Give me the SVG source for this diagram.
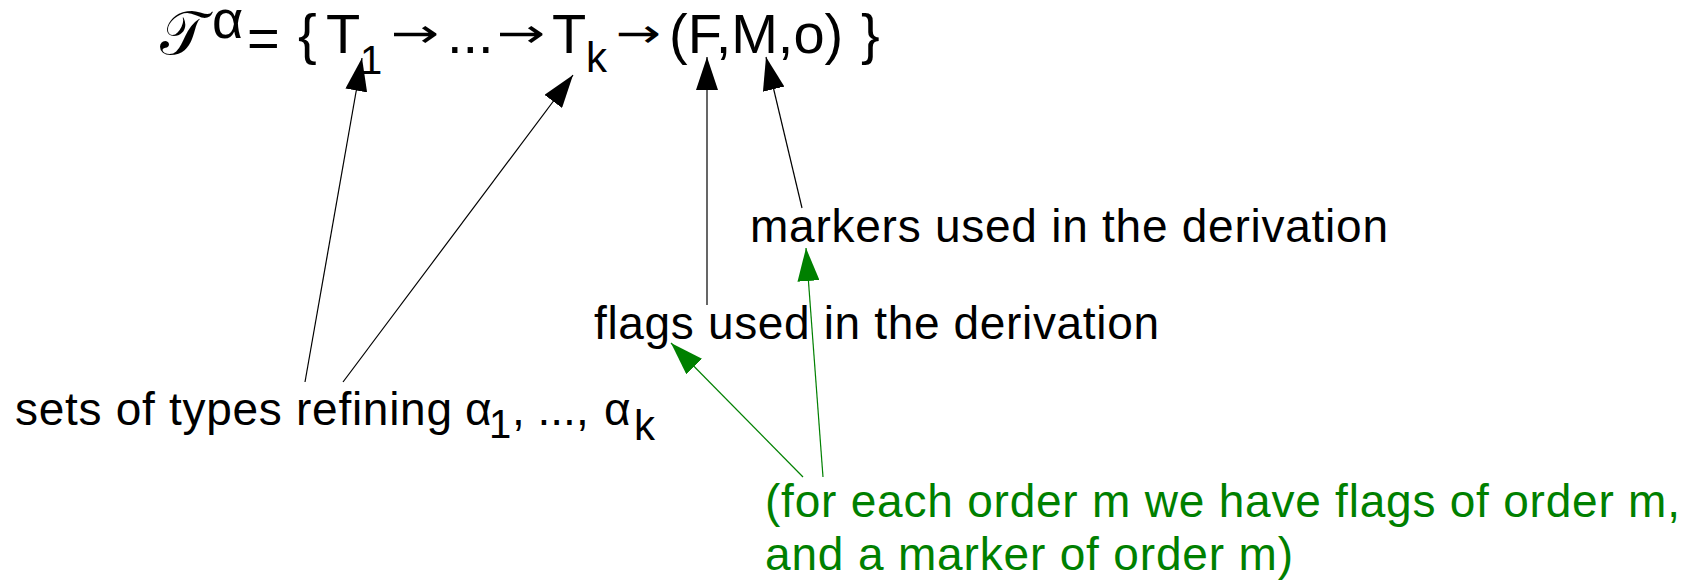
<svg xmlns="http://www.w3.org/2000/svg" width="1702" height="582" viewBox="0 0 1702 582">
<style>
  .t { font-family: "Liberation Sans", Arial, sans-serif; fill: #000; }
  .g { fill: #008000; }
  .f { font-size: 56px; }
  .lab { font-size: 46px; }
  .arr { font-family: "DejaVu Sans", sans-serif; font-size: 40px; fill: #000; }
  .ln { stroke: #000; stroke-width: 1.2; fill: none; }
  .lng { stroke: #008000; stroke-width: 1.2; fill: none; }
</style>
<defs>
  <marker id="ah" viewBox="0 0 33 22" refX="33" refY="11" markerWidth="33" markerHeight="22" markerUnits="userSpaceOnUse" orient="auto">
    <path d="M0,0 L33,11 L0,22 z" fill="#000"/>
  </marker>
  <marker id="ahg" viewBox="0 0 33 22" refX="33" refY="11" markerWidth="33" markerHeight="22" markerUnits="userSpaceOnUse" orient="auto">
    <path d="M0,0 L33,11 L0,22 z" fill="#008000"/>
  </marker>
</defs>
<rect width="1702" height="582" fill="#fff"/>

<g id="formula">
  <text x="160" y="54" font-size="60" style="font-family:'DejaVu Serif','DejaVu Sans',serif" fill="#000">𝒯</text>
  <text class="t" x="212" y="38" font-size="54">α</text>
  <text class="t f" x="247" y="57">=</text>
  <text class="t f" x="298" y="53">{</text>
  <text class="t f" x="326" y="53">T</text>
  <text class="t" x="360" y="74" font-size="40">1</text>
  <text class="arr" transform="translate(391,47) scale(1.45,1)" x="0" y="0">→</text>
  <text class="t f" x="447" y="53">...</text>
  <text class="arr" transform="translate(497,47) scale(1.45,1)" x="0" y="0">→</text>
  <text class="t f" x="552" y="53">T</text>
  <text class="t" x="586" y="72" font-size="42">k</text>
  <text class="arr" transform="translate(616,47) scale(1.35,1)" x="0" y="0">→</text>
  <text class="t f" x="669" y="53">(F,M,o)</text>
  <text class="t f" x="861" y="53">}</text>
</g>

<g id="label-sets">
  <text class="t lab" x="15" y="425" textLength="437" lengthAdjust="spacing">sets of types refining</text>
  <text class="t lab" x="465" y="425">α</text>
  <text class="t" x="489" y="438" font-size="40">1</text>
  <text class="t lab" x="512" y="425">, ..., </text>
  <text class="t lab" x="604" y="425">α</text>
  <text class="t" x="634" y="440" font-size="42">k</text>
</g>

<g id="label-flags">
  <text class="t lab" x="594" y="339" textLength="565" lengthAdjust="spacing">flags used in the derivation</text>
</g>

<g id="label-markers">
  <text class="t lab" x="750" y="242" textLength="638" lengthAdjust="spacing">markers used in the derivation</text>
</g>

<g id="note">
  <text class="t g lab" x="765" y="517" textLength="915" lengthAdjust="spacing">(for each order m we have flags of order m,</text>
  <text class="t g lab" x="765" y="570" textLength="528" lengthAdjust="spacing">and a marker of order m)</text>
</g>

<g id="connectors">
  <line class="ln" x1="305" y1="382" x2="362" y2="58" marker-end="url(#ah)"/>
  <line class="ln" x1="343" y1="382" x2="573" y2="75" marker-end="url(#ah)"/>
  <line class="ln" x1="707" y1="305" x2="707" y2="57" marker-end="url(#ah)"/>
  <line class="ln" x1="802" y1="208" x2="766" y2="57" marker-end="url(#ah)"/>
  <line class="lng" x1="803" y1="477" x2="671" y2="343" marker-end="url(#ahg)"/>
  <line class="lng" x1="823" y1="477" x2="806" y2="248" marker-end="url(#ahg)"/>
</g>
</svg>
